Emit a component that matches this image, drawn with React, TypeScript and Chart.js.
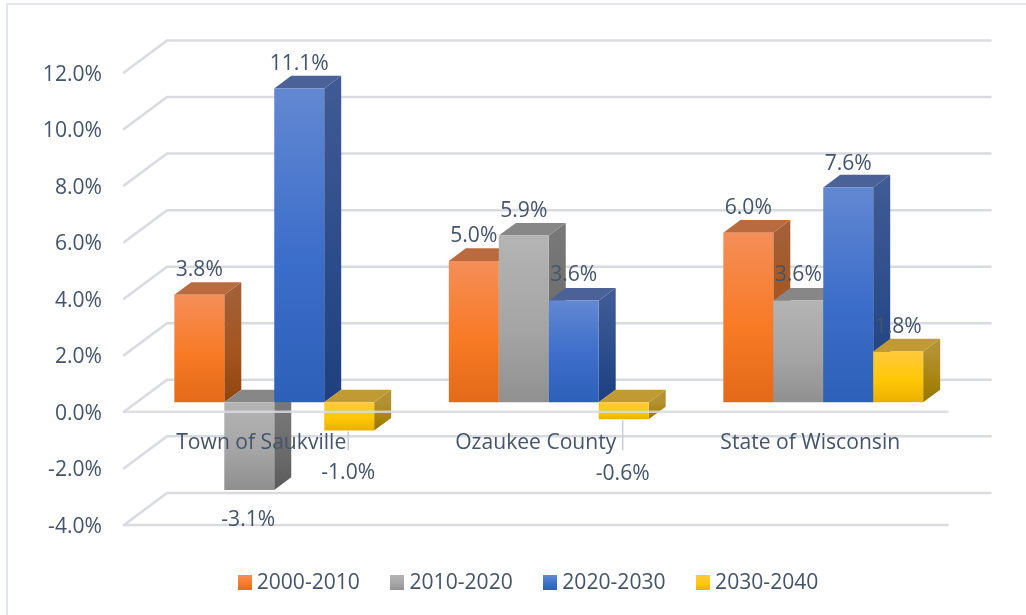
import React, { useEffect, useRef } from "react";
import { Chart, registerables } from "chart.js";

Chart.register(...registerables);

const categories = ["Town of Saukville", "Ozaukee County", "State of Wisconsin"];
const periods = ["2000-2010", "2010-2020", "2020-2030", "2030-2040"];
const values2000 = [3.8, 5.0, 6.0];
const values2010 = [-3.1, 5.9, 3.6];
const values2020 = [11.1, 3.6, 7.6];
const values2030 = [-1.0, -0.6, 1.8];
const seriesValues = [values2000, values2010, values2020, values2030];

const FONT = '"Open Sans", sans-serif';
const FS = 21.1;
const TEXT = "#44546A";
const GRID = "#D9DBE0";

// front stops, side stops, top colour for each series
const frontStops = [
  ["#F58E58", "#F87A25", "#E36A18"],
  ["#B4B4B4", "#A5A5A5", "#909090"],
  ["#6288D2", "#3B6DCA", "#2D60B8"],
  ["#FFC93C", "#FFC807", "#EBB000"],
];
const sideStops = [
  ["#A35F36", "#A5541D", "#8F4510"],
  ["#787878", "#6C6C6C", "#5A5A5A"],
  ["#3F5A94", "#2B4C8A", "#1F3F7E"],
  ["#B29233", "#A88410", "#967700"],
];
const topColors = ["#BA6A3F", "#878787", "#4A6298", "#C19A34"];

// bars stand part-way between the front and the back planes of the 3D box
const BACK_DX = 43;
const BACK_DY = -32;
const BAR_DX = 13;
const BAR_DY = -9.5;
const DEPTH_DX = 17;
const DEPTH_DY = -12.6;

// offsets of the hand-moved labels, keyed dataset:category
const labelShift: Record<string, number> = { "1:0": 30.5, "3:0": 42.5, "3:1": 54.5, "2:1": 26, "1:2": 26, "2:2": 23 };
const leaderLength: Record<string, number> = { "3:0": 20, "3:1": 31 };

function makeGradient(ctx: CanvasRenderingContext2D, y0: number, y1: number, stops: string[]) {
  const g = ctx.createLinearGradient(0, y0, 0, y1);
  g.addColorStop(0, stops[0]);
  g.addColorStop(0.55, stops[1]);
  g.addColorStop(1, stops[2]);
  return g;
}

function swatch(stops: string[]) {
  const c = document.createElement("canvas");
  c.width = 14;
  c.height = 15;
  const x = c.getContext("2d")!;
  x.fillStyle = makeGradient(x, 0, 15, stops);
  x.fillRect(0, 0, 14, 15);
  return c;
}

const box3dPlugin = {
  id: "box3d",
  afterLayout(chart: any) {
    chart.legend.top += 11.5;
    chart.legend.bottom += 11.5;
    chart.legend.left += 57;
    chart.legend.right += 57;
  },
  beforeDraw(chart: any) {
    const c = chart.ctx;
    c.save();
    c.fillStyle = "#FFFFFF";
    c.fillRect(0, 0, chart.width, chart.height);
    c.strokeStyle = "#E3E7EB";
    c.lineWidth = 2;
    c.beginPath();
    c.moveTo(1026, 4);
    c.lineTo(7, 4);
    c.lineTo(7, 615);
    c.stroke();
    c.restore();
  },
  beforeDatasetsDraw(chart: any) {
    const c = chart.ctx;
    const { left, right } = chart.chartArea;
    const yS = chart.scales.y;
    c.save();
    c.strokeStyle = GRID;
    c.lineWidth = 2.5;
    c.lineCap = "round";
    yS.ticks.forEach((t: any) => {
      const py = yS.getPixelForValue(t.value);
      c.beginPath();
      c.moveTo(left, py);
      c.lineTo(left + BACK_DX, py + BACK_DY);
      c.lineTo(right + BACK_DX, py + BACK_DY);
      c.stroke();
    });
    const bottomY = yS.getPixelForValue(yS.min);
    c.beginPath();
    c.moveTo(left, bottomY);
    c.lineTo(right, bottomY);
    c.stroke();

    c.translate(BAR_DX, BAR_DY);
    chart.data.datasets.forEach((_: any, di: number) => {
      const meta = chart.getDatasetMeta(di);
      meta.data.forEach((el: any) => {
        const top = Math.min(el.y, el.base);
        const bottom = Math.max(el.y, el.base);
        const l = el.x - el.width / 2;
        const r = el.x + el.width / 2;
        c.fillStyle = makeGradient(c, top, bottom, sideStops[di]);
        c.beginPath();
        c.moveTo(r, top);
        c.lineTo(r + DEPTH_DX, top + DEPTH_DY);
        c.lineTo(r + DEPTH_DX, bottom + DEPTH_DY);
        c.lineTo(r, bottom);
        c.closePath();
        c.fill();
        c.fillStyle = topColors[di];
        c.beginPath();
        c.moveTo(l, top);
        c.lineTo(l + DEPTH_DX, top + DEPTH_DY);
        c.lineTo(r + DEPTH_DX, top + DEPTH_DY);
        c.lineTo(r, top);
        c.closePath();
        c.fill();
      });
      meta.controller.draw();
    });
    c.translate(-BAR_DX, -BAR_DY);

    // the front zero line runs over the bars that hang below zero
    const zeroY = yS.getPixelForValue(0);
    c.strokeStyle = "rgba(217,219,224,0.85)";
    c.beginPath();
    c.moveTo(left, zeroY);
    c.lineTo(right, zeroY);
    c.stroke();
    c.restore();
    return false;
  },
  afterDraw(chart: any) {
    const c = chart.ctx;
    c.save();
    c.translate(BAR_DX, BAR_DY);
    c.font = `${FS}px ${FONT}`;
    c.fillStyle = TEXT;
    c.textAlign = "center";
    c.textBaseline = "middle";
    chart.data.datasets.forEach((ds: any, di: number) => {
      chart.getDatasetMeta(di).data.forEach((el: any, i: number) => {
        const v = ds.data[i];
        const key = `${di}:${i}`;
        const end = v < 0 ? el.y + (labelShift[key] ?? 28) : el.y - (labelShift[key] ?? 24.5);
        const lx = v < 0 ? el.x - 1 : el.x;
        c.fillText(`${v.toFixed(1)}%`, lx, end);
        if (leaderLength[key]) {
          c.save();
          c.strokeStyle = "#C5CCD6";
          c.lineWidth = 1.5;
          c.beginPath();
          c.moveTo(el.x - 1, el.y + 1);
          c.lineTo(el.x - 1, el.y + leaderLength[key]);
          c.stroke();
          c.restore();
        }
      });
    });
    c.restore();
  },
};

export default function App() {
  const ref = useRef<HTMLCanvasElement>(null);
  useEffect(() => {
    const chart = new Chart(ref.current!, {
      type: "bar",
      data: {
        labels: categories,
        datasets: periods.map((label, di) => ({
          label,
          data: seriesValues[di],
          borderWidth: 0,
          categoryPercentage: 0.728,
          barPercentage: 1,
          backgroundColor: (ctx: any) => {
            const yS = ctx.chart.scales.y;
            if (!yS || ctx.raw === undefined) return frontStops[di][1];
            const a = yS.getPixelForValue(ctx.raw);
            const b = yS.getPixelForValue(0);
            return makeGradient(ctx.chart.ctx, Math.min(a, b), Math.max(a, b), frontStops[di]);
          },
        })),
      },
      options: {
        animation: false,
        responsive: false,
        layout: { padding: { left: 0, right: 78.5, top: 72.5, bottom: 23 } },
        plugins: {
          tooltip: { enabled: false },
          title: { display: false },
          legend: {
            position: "bottom",
            labels: {
              usePointStyle: true,
              boxWidth: 3,
              boxHeight: 15,
              padding: 36,
              color: TEXT,
              font: { family: FONT, size: FS },
              generateLabels: () =>
                periods.map((text, i) => ({
                  text,
                  pointStyle: swatch(frontStops[i]),
                  fontColor: TEXT,
                  datasetIndex: i,
                  hidden: false,
                  lineWidth: 0,
                })),
            },
          },
        },
        scales: {
          x: {
            position: { y: 0 } as any,
            grid: { display: false, drawTicks: false },
            border: { display: false },
            ticks: { z: 1, color: TEXT, font: { family: FONT, size: FS }, padding: 19, maxRotation: 0 },
          },
          y: {
            min: -4,
            max: 12,
            afterFit: (s: any) => {
              s.width = 124;
            },
            grid: { display: false, drawTicks: false },
            border: { display: false },
            ticks: {
              stepSize: 2,
              padding: 22,
              labelOffset: 2,
              color: TEXT,
              font: { family: FONT, size: FS },
              callback: (v: any) => `${Number(v).toFixed(1)}%`,
            },
          },
        },
      },
      plugins: [box3dPlugin],
    } as any);
    return () => chart.destroy();
  }, []);
  return (
    <div style={{ position: "fixed", left: 0, top: 0, width: 1026, height: 615, background: "#fff" }}>
      <canvas ref={ref} width={1026} height={615} style={{ display: "block" }} />
    </div>
  );
}
